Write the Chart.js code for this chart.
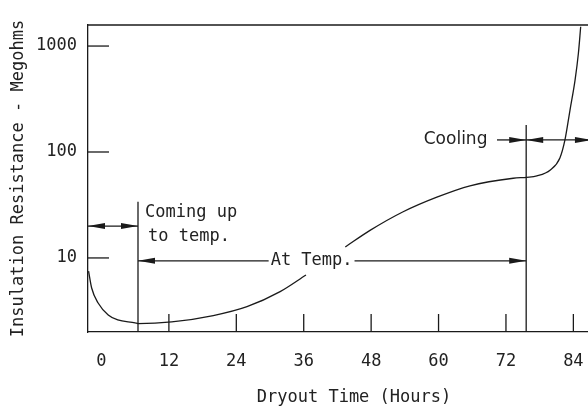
<!DOCTYPE html>
<html>
<head>
<meta charset="utf-8">
<script src="https://cdn.jsdelivr.net/npm/chart.js@4/dist/chart.umd.min.js"></script>
<style>
  html, body { margin: 0; padding: 0; background: #fff; overflow: hidden; }
  #wrap { width: 588px; height: 410px; overflow: hidden; }
</style>
</head>
<body>
<div id="wrap"><canvas id="dryoutChart" width="620" height="410"></canvas></div>
<script>
// insulation resistance curve (hours, megohms)
// the null entry breaks the line where the "At Temp." label sits
const dryoutHours = [-2.3, -1.75, -0.6, 1.2, 2.9, 6.0, 6.5, 12.5, 19.9, 25.9, 31.8, 36.4, 40,
                     43.4, 47.8, 53.7, 59.7, 65.6, 73.3, 75.7, 77.5, 79.9, 81.6, 82.5, 83.4, 84.3, 84.9, 85.3];
const resistance = [7.5, 5.2, 3.76, 2.9, 2.6, 2.44, 2.4, 2.49, 2.86, 3.47, 4.81, 6.9, null,
                    12.7, 18.2, 27.3, 37.5, 48, 56.5, 57.7, 59.4, 67.6, 87.8, 130, 249, 477, 859, 1520];

const hourTicks = [0, 12, 24, 36, 48, 60, 72, 84];
const ohmTicks = [10, 100, 1000];

// phase boundary lines: hour and how high they reach (megohms)
const phaseHours = [6.5, 75.6];
const phaseTops = [34, 180];

// dimension arrows: level, from hour, to hour, which ends get heads
const dimLevels = [20, 9.4, 130, 130];
const dimFrom = [-2.4, 6.5, 75.6, 70.4];
const dimTo = [6.5, 75.6, 87.3, 75.6];
const dimHeads = ['both', 'both', 'both', 'end'];

// notes: text, anchor hour, anchor level, alignment
const noteText = ['Coming up', 'to temp.', 'At Temp.', 'Cooling'];
const noteHours = [7.75, 8.3, 37.4, 68.7];
const noteLevels = [26.6, 15.8, 9.4, 130];
const noteAlign = ['left', 'left', 'center', 'right'];

const ink = '#1a1a1a';
const mono = { family: 'DejaVu Sans Mono', size: 17 };

const sketchNotes = {
  id: 'sketchNotes',
  afterDatasetsDraw(chart) {
    const { ctx, chartArea: a, scales: { x, y } } = chart;
    const line = (x1, y1, x2, y2) => {
      ctx.beginPath(); ctx.moveTo(x1, y1); ctx.lineTo(x2, y2); ctx.stroke();
    };
    const head = (tx, ty, dir) => {
      ctx.beginPath();
      ctx.moveTo(tx, ty);
      ctx.lineTo(tx - dir * 17, ty - 3);
      ctx.lineTo(tx - dir * 17, ty + 3);
      ctx.closePath();
      ctx.fill();
    };
    ctx.save();
    ctx.strokeStyle = ink;
    ctx.fillStyle = ink;
    ctx.lineWidth = 1.3;

    // top edge of the frame
    line(a.left, a.top, a.right, a.top);

    // tick marks point into the plot
    x.ticks.forEach(t => {
      if (t.value <= 0) return;
      const px = x.getPixelForValue(t.value);
      line(px, a.bottom, px, a.bottom - 18);
    });
    y.ticks.forEach(t => {
      const py = y.getPixelForValue(t.value);
      line(a.left, py, a.left + 21, py);
    });

    phaseHours.forEach((h, i) => {
      const px = x.getPixelForValue(h);
      line(px, y.getPixelForValue(phaseTops[i]), px, a.bottom);
    });

    dimLevels.forEach((lv, i) => {
      const py = y.getPixelForValue(lv);
      const x1 = x.getPixelForValue(dimFrom[i]);
      const x2 = x.getPixelForValue(dimTo[i]);
      line(x1, py, x2, py);
      if (dimHeads[i] === 'both') head(x1, py, -1);
      head(x2, py, 1);
    });

    ctx.textBaseline = 'middle';
    noteText.forEach((txt, i) => {
      const px = x.getPixelForValue(noteHours[i]);
      const py = y.getPixelForValue(noteLevels[i]);
      ctx.font = (txt === 'Cooling' ? '17px "DejaVu Sans"' : '17px "DejaVu Sans Mono"');
      ctx.textAlign = noteAlign[i];
      if (noteAlign[i] === 'center') {
        const w = ctx.measureText(txt).width;
        ctx.fillStyle = '#fff';
        ctx.fillRect(px - w / 2 - 2, py - 8, w + 4, 16);
      }
      ctx.fillStyle = '#222';
      ctx.fillText(txt, px, py);
    });
    ctx.restore();
  }
};

new Chart(document.getElementById('dryoutChart'), {
  type: 'line',
  data: {
    datasets: [{
      data: dryoutHours.map((h, i) => ({ x: h, y: resistance[i] })),
      borderColor: ink,
      borderWidth: 1.3,
      pointRadius: 0,
      cubicInterpolationMode: 'monotone',
      spanGaps: false,
      fill: false
    }]
  },
  options: {
    responsive: false,
    animation: false,
    devicePixelRatio: 1,
    layout: { padding: { top: 25, right: 0, bottom: 0, left: 0 } },
    plugins: {
      legend: { display: false },
      tooltip: { enabled: false }
    },
    scales: {
      x: {
        type: 'linear',
        min: -2.4,
        max: 92.3,
        afterBuildTicks: s => { s.ticks = hourTicks.map(v => ({ value: v })); },
        afterFit: s => { s.height = 78; },
        grid: { display: false, drawTicks: false },
        border: { display: true, color: ink, width: 1.3 },
        ticks: {
          padding: 19,
          maxRotation: 0,
          autoSkip: false,
          color: '#222',
          font: mono,
          callback: v => String(v)
        },
        title: {
          display: true,
          text: 'Dryout Time (Hours)',
          color: '#222',
          font: mono,
          padding: { top: 0, bottom: 2 }
        }
      },
      y: {
        type: 'logarithmic',
        min: 2,
        max: 1580,
        afterBuildTicks: s => { s.ticks = ohmTicks.map(v => ({ value: v })); },
        afterFit: s => { s.width = 88; },
        grid: { display: false, drawTicks: false },
        border: { display: true, color: ink, width: 1.3 },
        ticks: {
          padding: 11,
          color: '#222',
          font: mono,
          callback: v => String(v)
        },
        title: {
          display: true,
          text: 'Insulation Resistance - Megohms',
          color: '#222',
          font: mono,
          padding: { top: 8, bottom: 0 }
        }
      }
    }
  },
  plugins: [sketchNotes]
});
</script>
</body>
</html>
